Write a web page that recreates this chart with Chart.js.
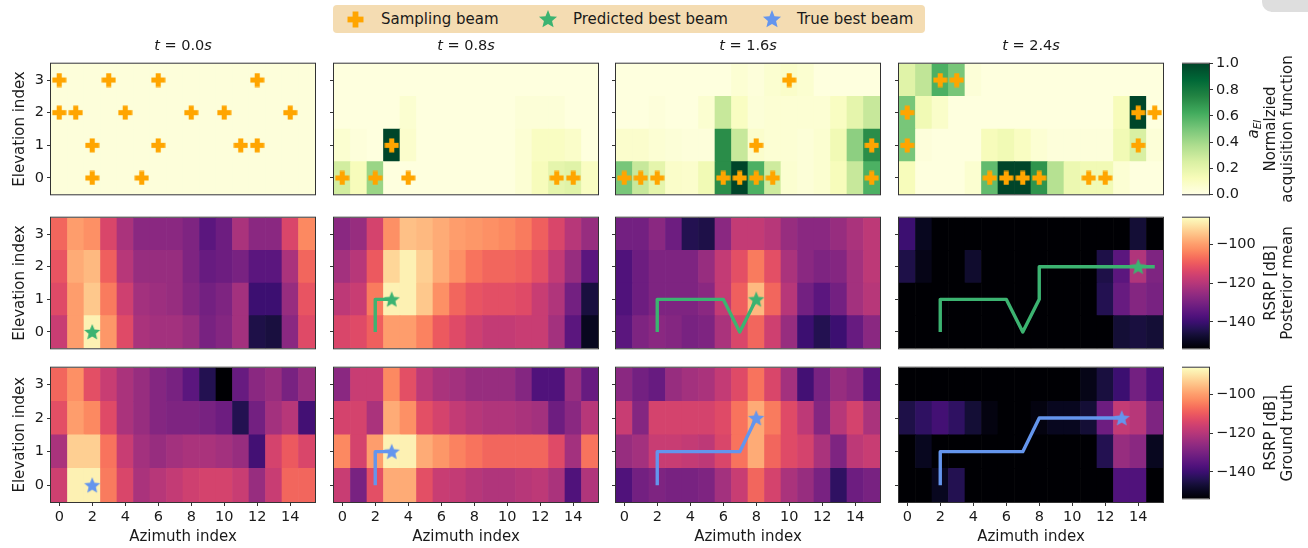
<!DOCTYPE html>
<html>
<head>
<meta charset="utf-8">
<title>Beam tracking heatmaps</title>
<script src="https://cdn.jsdelivr.net/npm/chart.js@4.4.1/dist/chart.umd.min.js"></script>
<style>
  body { margin: 0; background: #fff; }
  #fig { position: relative; width: 1308px; height: 548px; overflow: hidden;
         font-family: "DejaVu Sans", sans-serif; color: #1a1a1a; }
  #fig canvas { position: absolute; }
  .ptitle { position: absolute; top: 37px; width: 264px; text-align: center; font-size: 14.5px; line-height: 17px; }
  .cblabel { position: absolute; white-space: nowrap; text-align: center; font-size: 15px; line-height: 17px;
             transform: translate(-50%, -50%) rotate(-90deg); }
  .cblabel sub { font-size: 10.5px; line-height: 0; vertical-align: -3px; }
  #legend { position: absolute; left: 333px; top: 5px; width: 592px; height: 28px;
            background: #f4dcb2; border-radius: 4px; font-size: 15px; }
  #legend span { position: absolute; top: 5px; line-height: 18px; white-space: nowrap; }
  .corner { position: absolute; left: 1262px; top: -12px; width: 70px; height: 24px;
            border-radius: 10px; background: #dedede; }
</style>
</head>
<body>
<div id="fig">
  <div class="corner"></div>
  <div id="legend"></div>
</div>
<script>
// === Data ===
const timeLabels = ['0.0', '0.8', '1.6', '2.4'];
const azimuthIdx = [0, 1, 2, 3, 4, 5, 6, 7, 8, 9, 10, 11, 12, 13, 14, 15];
const elevationIdx = [3, 2, 1, 0];   // row order of every grid below (top row first)
const azTicks = [0, 2, 4, 6, 8, 10, 12, 14];
const elevTicks = [0, 1, 2, 3];
const acqTicks = [0, 0.2, 0.4, 0.6, 0.8, 1.0];
const rsrpTicks = [-140, -120, -100];
const acqRange = [0, 1];
const rsrpRange = [-153.7, -86.2];

// normalized acquisition function a_EI
const acqT00 = [
  [0.03, 0.03, 0.03, 0.03, 0.03, 0.03, 0.03, 0.03, 0.03, 0.03, 0.03, 0.03, 0.03, 0.03, 0.03, 0.03],
  [0.03, 0.03, 0.03, 0.03, 0.03, 0.03, 0.03, 0.03, 0.03, 0.03, 0.03, 0.03, 0.03, 0.03, 0.03, 0.03],
  [0.03, 0.03, 0.03, 0.03, 0.03, 0.03, 0.03, 0.03, 0.03, 0.03, 0.03, 0.03, 0.03, 0.03, 0.03, 0.03],
  [0.03, 0.03, 0.03, 0.03, 0.03, 0.03, 0.03, 0.03, 0.03, 0.03, 0.03, 0.03, 0.03, 0.03, 0.03, 0.03]
];
const acqT08 = [
  [0.02, 0.02, 0.02, 0.02, 0.02, 0.02, 0.02, 0.02, 0.02, 0.02, 0.02, 0.02, 0.02, 0.02, 0.02, 0.02],
  [0.02, 0.02, 0.02, 0.02, 0.06, 0.02, 0.02, 0.02, 0.02, 0.02, 0.02, 0.04, 0.04, 0.04, 0.02, 0.02],
  [0.06, 0.03, 0.02, 1.00, 0.07, 0.02, 0.02, 0.02, 0.02, 0.02, 0.02, 0.05, 0.10, 0.10, 0.08, 0.02],
  [0.27, 0.12, 0.42, 0.02, 0.02, 0.02, 0.02, 0.02, 0.02, 0.02, 0.02, 0.05, 0.12, 0.20, 0.22, 0.10]
];
const acqT16 = [
  [0.02, 0.02, 0.02, 0.02, 0.02, 0.02, 0.02, 0.05, 0.03, 0.06, 0.08, 0.06, 0.02, 0.02, 0.02, 0.02],
  [0.02, 0.02, 0.03, 0.02, 0.02, 0.06, 0.30, 0.10, 0.04, 0.05, 0.05, 0.05, 0.05, 0.10, 0.20, 0.30],
  [0.07, 0.07, 0.05, 0.04, 0.03, 0.03, 0.72, 0.30, 0.07, 0.05, 0.05, 0.04, 0.06, 0.15, 0.45, 0.72],
  [0.50, 0.30, 0.20, 0.08, 0.07, 0.15, 0.72, 1.00, 0.60, 0.28, 0.06, 0.04, 0.06, 0.12, 0.30, 0.60]
];
const acqT24 = [
  [0.22, 0.32, 0.60, 0.50, 0.04, 0.02, 0.02, 0.02, 0.02, 0.02, 0.02, 0.02, 0.02, 0.02, 0.02, 0.02],
  [0.50, 0.15, 0.08, 0.02, 0.02, 0.02, 0.02, 0.02, 0.02, 0.02, 0.02, 0.02, 0.02, 0.12, 1.00, 0.02],
  [0.50, 0.03, 0.02, 0.02, 0.02, 0.12, 0.15, 0.10, 0.05, 0.03, 0.03, 0.03, 0.03, 0.15, 0.25, 0.04],
  [0.12, 0.02, 0.02, 0.02, 0.06, 0.55, 1.00, 1.00, 0.70, 0.35, 0.17, 0.15, 0.15, 0.05, 0.02, 0.02]
];

// RSRP posterior mean [dB]
const postT00 = [
  [-108, -100, -102, -114, -122, -127, -127, -127, -129, -135, -132, -122, -127, -127, -114, -103],
  [-111, -98, -96, -109, -120, -125, -125, -125, -129, -133, -132, -130, -135, -135, -122, -108],
  [-113, -100, -94, -105, -116, -123, -124, -125, -128, -131, -129, -123, -140, -140, -125, -111],
  [-117, -100, -88, -101, -113, -122, -123, -123, -125, -130, -128, -123, -145, -146, -127, -113]
];
const postT08 = [
  [-127, -125, -115, -102, -95, -96, -98, -100, -101, -102, -103, -105, -109, -114, -120, -125],
  [-123, -120, -110, -92, -88, -93, -98, -102, -106, -108, -108, -109, -112, -118, -125, -135],
  [-119, -117, -105, -88, -88, -94, -102, -108, -111, -112, -112, -113, -117, -121, -131, -146],
  [-114, -113, -109, -100, -100, -104, -110, -113, -116, -118, -118, -117, -117, -123, -135, -150]
];
const postT16 = [
  [-131, -131, -127, -132, -144, -145, -127, -118, -118, -120, -125, -127, -127, -125, -122, -119],
  [-137, -132, -129, -129, -129, -125, -118, -112, -105, -112, -122, -127, -129, -128, -123, -119],
  [-137, -132, -129, -129, -129, -127, -118, -109, -96, -108, -120, -131, -135, -131, -123, -120],
  [-135, -129, -127, -128, -130, -129, -122, -114, -108, -116, -125, -140, -144, -140, -133, -127]
];
const postT24 = [
  [-140, -150, -155, -155, -155, -155, -155, -155, -155, -155, -155, -155, -155, -155, -147, -155],
  [-145, -151, -155, -155, -148, -155, -155, -155, -155, -155, -155, -155, -145, -135, -121, -129],
  [-155, -155, -155, -155, -155, -155, -155, -155, -155, -155, -155, -155, -144, -133, -128, -130],
  [-155, -155, -155, -155, -155, -155, -155, -155, -155, -155, -155, -155, -155, -147, -146, -147]
];

// RSRP ground truth [dB]
const truthT00 = [
  [-108, -102, -112, -117, -122, -125, -128, -130, -135, -144, -155, -133, -127, -125, -130, -125],
  [-112, -100, -103, -113, -122, -125, -128, -129, -129, -130, -132, -144, -131, -123, -120, -139],
  [-122, -93, -93, -106, -117, -123, -125, -123, -122, -122, -123, -125, -139, -115, -110, -114],
  [-116, -88, -88, -105, -114, -122, -120, -118, -116, -115, -115, -117, -125, -117, -108, -108]
];
const truthT08 = [
  [-127, -117, -117, -103, -112, -119, -122, -123, -125, -125, -125, -128, -137, -137, -125, -133],
  [-115, -115, -122, -98, -102, -112, -115, -118, -120, -121, -121, -122, -123, -132, -127, -120],
  [-103, -115, -100, -88, -88, -98, -101, -104, -106, -108, -108, -108, -108, -113, -123, -106],
  [-117, -130, -112, -98, -98, -112, -117, -118, -120, -121, -121, -120, -119, -122, -137, -121]
];
const truthT16 = [
  [-127, -131, -133, -125, -123, -122, -118, -113, -106, -114, -123, -139, -130, -125, -127, -135],
  [-117, -128, -115, -115, -115, -115, -113, -106, -98, -105, -113, -119, -128, -120, -115, -122],
  [-125, -123, -117, -117, -118, -119, -114, -106, -98, -108, -113, -115, -122, -129, -119, -117],
  [-137, -131, -129, -130, -130, -129, -123, -117, -108, -115, -122, -125, -130, -142, -132, -130]
];
const truthT24 = [
  [-155, -155, -155, -155, -155, -155, -155, -155, -155, -155, -155, -151, -146, -140, -131, -137],
  [-145, -142, -139, -142, -147, -152, -155, -155, -152, -150, -150, -147, -132, -118, -120, -129],
  [-155, -150, -155, -155, -155, -155, -155, -155, -155, -155, -155, -155, -144, -125, -127, -150],
  [-155, -155, -150, -144, -155, -155, -155, -155, -155, -155, -155, -155, -155, -137, -137, -155]
];

// sampling beams [azimuth, elevation]
const samplesT00 = [[0, 3], [3, 3], [6, 3], [12, 3], [0, 2], [1, 2], [4, 2], [8, 2], [10, 2], [14, 2],
                    [2, 1], [6, 1], [11, 1], [12, 1], [2, 0], [5, 0]];
const samplesT08 = [[3, 1], [0, 0], [2, 0], [4, 0], [13, 0], [14, 0]];
const samplesT16 = [[10, 3], [8, 1], [15, 1], [0, 0], [1, 0], [2, 0], [6, 0], [7, 0], [8, 0], [9, 0], [15, 0]];
const samplesT24 = [[2, 3], [3, 3], [0, 2], [14, 2], [15, 2], [0, 1], [14, 1],
                    [5, 0], [6, 0], [7, 0], [8, 0], [11, 0], [12, 0]];

// best beam tracks [azimuth, elevation]
const predBest = [[2, 0], [3, 1], [8, 1], [14, 2]];
const trueBest = [[2, 0], [3, 1], [8, 2], [13, 2]];
const predPathT08 = [[2, 0], [2, 1], [3, 1]];
const predPathT16 = [[2, 0], [2, 1], [3, 1], [4, 1], [5, 1], [6, 1], [7, 0], [8, 1]];
const predPathT24 = [[2, 0], [2, 1], [3, 1], [4, 1], [5, 1], [6, 1], [7, 0], [8, 1], [8, 2],
                     [9, 2], [10, 2], [11, 2], [12, 2], [13, 2], [14, 2], [15, 2]];
const truePathT08 = [[2, 0], [2, 1], [3, 1]];
const truePathT16 = [[2, 0], [2, 1], [3, 1], [4, 1], [5, 1], [6, 1], [7, 1], [8, 2]];
const truePathT24 = [[2, 0], [2, 1], [3, 1], [4, 1], [5, 1], [6, 1], [7, 1], [8, 2],
                     [9, 2], [10, 2], [11, 2], [12, 2], [13, 2]];

// === Look ===
const GREEN = '#3cb371', BLUE = '#6495ed', ORANGE = '#ffa500';
const FONT = { family: '"DejaVu Sans", sans-serif', size: 14.5 };
const LABEL_FONT = { family: '"DejaVu Sans", sans-serif', size: 15 };
const TEXT = '#1a1a1a';
const magmaStops = ['#000004', '#07061c', '#140e36', '#251255', '#3b0f70', '#51127c', '#641a80',
  '#782281', '#8c2981', '#a1307e', '#b73779', '#cb3e72', '#de4968', '#ed5a5f', '#f7705c',
  '#fc8961', '#fe9f6d', '#feb77e', '#fecf92', '#fde7a9', '#fcfdbf'];
const ylgnStops = ['#ffffe5', '#f7fcb9', '#d9f0a3', '#addd8e', '#78c679', '#41ab5d', '#238443', '#006837', '#004529'];

const colX = [51, 334, 616, 899];
const rowY = [60, 214, 364];
const PW = 264, PH = 138, AX_W = 51, PAD = 8, XAX_H = 52;
const CB_X = 1182, CB_W = 27;

const fig = document.getElementById('fig');

function hexToRgb(h) {
  return [1, 3, 5].map(i => parseInt(h.substr(i, 2), 16));
}
function cmapColor(stops, t) {
  t = Math.min(1, Math.max(0, t));
  const pos = t * (stops.length - 1);
  const i = Math.min(stops.length - 2, Math.floor(pos));
  const f = pos - i;
  const a = hexToRgb(stops[i]), b = hexToRgb(stops[i + 1]);
  const c = a.map((v, k) => Math.round(v + (b[k] - v) * f));
  return `rgb(${c[0]},${c[1]},${c[2]})`;
}
function norm(v, range) {
  return (v - range[0]) / (range[1] - range[0]);
}

function makeMarker(kind, size, color) {
  const c = document.createElement('canvas');
  c.width = c.height = size;
  const g = c.getContext('2d');
  g.fillStyle = color;
  const m = size / 2;
  if (kind === 'plus') {
    const t = size * 0.34;
    g.fillRect(m - t / 2, 0.5, t, size - 1);
    g.fillRect(0.5, m - t / 2, size - 1, t);
  } else {
    const R = m - 0.5, r = R * 0.45;
    g.beginPath();
    for (let i = 0; i < 10; i++) {
      const a = -Math.PI / 2 + i * Math.PI / 5;
      const rr = i % 2 ? r : R;
      g.lineTo(m + rr * Math.cos(a), m + rr * Math.sin(a) + 0.6);
    }
    g.closePath();
    g.fill();
  }
  return c;
}
const plusImg = makeMarker('plus', 15, ORANGE);
const starGreen = makeMarker('star', 18, GREEN);
const starBlue = makeMarker('star', 18, BLUE);

// axes frame, like matplotlib spines
const framePlugin = {
  id: 'frame',
  afterDatasetsDraw(chart) {
    const { ctx, chartArea: a } = chart;
    ctx.save();
    ctx.strokeStyle = '#333';
    ctx.lineWidth = 1;
    ctx.strokeRect(a.left - 0.5, a.top - 0.5, a.width + 1, a.height + 1);
    ctx.restore();
  }
};

function addCanvas(left, top, w, h) {
  const cv = document.createElement('canvas');
  cv.width = w; cv.height = h;
  cv.style.left = left + 'px';
  cv.style.top = top + 'px';
  fig.appendChild(cv);
  return cv;
}

function gridToCells(grid, colorFn) {
  const pts = [], cols = [];
  grid.forEach((row, r) => {
    const el = elevationIdx[r];
    row.forEach((v, c) => {
      pts.push({ x: azimuthIdx[c], y: [el - 0.5, el + 0.5] });
      cols.push(colorFn(v));
    });
  });
  return { pts, cols };
}
const toXY = list => list.map(([x, y]) => ({ x, y }));

function markerSet(list, img) {
  return { type: 'scatter', data: toXY(list), pointStyle: img, pointRadius: 7,
           clip: false, order: 1 };
}

// === Heatmap panels ===
const gridsByRow = [
  [acqT00, acqT08, acqT16, acqT24],
  [postT00, postT08, postT16, postT24],
  [truthT00, truthT08, truthT16, truthT24]
];
const samplesByCol = [samplesT00, samplesT08, samplesT16, samplesT24];
const predPaths = [null, predPathT08, predPathT16, predPathT24];
const truePaths = [null, truePathT08, truePathT16, truePathT24];

function drawPanel(row, col) {
  const isAcq = row === 0;
  const colorFn = isAcq
    ? v => cmapColor(ylgnStops, norm(v, acqRange))
    : v => cmapColor(magmaStops, norm(v, rsrpRange));
  const cells = gridToCells(gridsByRow[row][col], colorFn);

  const datasets = [{
    type: 'bar', data: cells.pts, backgroundColor: cells.cols, borderWidth: 0,
    barPercentage: 1, categoryPercentage: 1, order: 3
  }];
  if (isAcq) {
    datasets.push(markerSet(samplesByCol[col], plusImg));
  } else {
    const path = (row === 1 ? predPaths : truePaths)[col];
    const best = (row === 1 ? predBest : trueBest)[col];
    const color = row === 1 ? GREEN : BLUE;
    if (path) {
      datasets.push({
        type: 'line', data: toXY(path), borderColor: color, borderWidth: 3.4,
        pointRadius: 0, tension: 0, fill: false, borderJoinStyle: 'round',
        borderCapStyle: 'butt', order: 2
      });
    }
    datasets.push(markerSet([best], row === 1 ? starGreen : starBlue));
  }

  const bottom = row === 2;
  const xScale = {
    type: 'linear', min: -0.5, max: 15.5, offset: false, display: bottom,
    afterBuildTicks: s => { s.ticks = azTicks.map(v => ({ value: v })); },
    grid: { drawOnChartArea: false, tickLength: 4, color: '#333', offset: false },
    border: { display: false },
    ticks: { font: FONT, color: TEXT, padding: 3, maxRotation: 0, autoSkip: false },
    title: { display: true, text: 'Azimuth index', font: LABEL_FONT, color: TEXT, padding: { top: 0, bottom: 8 } }
  };
  if (bottom) xScale.afterFit = s => { s.height = XAX_H; };

  const cv = addCanvas(colX[col] - AX_W, rowY[row] - PAD, AX_W + PW + PAD,
                       PAD + PH + (bottom ? XAX_H : PAD));
  new Chart(cv, {
    type: 'bar',
    data: { datasets },
    options: {
      responsive: false, animation: false, events: [],
      layout: { padding: { left: 0, top: PAD, right: PAD, bottom: bottom ? 0 : PAD } },
      plugins: { legend: { display: false }, tooltip: { enabled: false } },
      scales: {
        x: xScale,
        y: {
          type: 'linear', min: -0.5, max: 3.5,
          afterBuildTicks: s => { s.ticks = elevTicks.map(v => ({ value: v })); },
          afterFit: s => { s.width = AX_W; },
          grid: { drawOnChartArea: false, tickLength: 4, color: '#333' },
          border: { display: false },
          ticks: { font: FONT, color: TEXT, padding: 3, callback: v => (col === 0 ? String(v) : '') },
          title: { display: col === 0, text: 'Elevation index', font: LABEL_FONT, color: TEXT,
                   padding: { top: 11, bottom: 0 } }
        }
      }
    },
    plugins: [framePlugin]
  });
}

// === Colorbars ===
function drawColorbar(row, stops, range, ticks, fmt) {
  const cv = addCanvas(CB_X, rowY[row] - PAD, CB_W + 60, PH + 2 * PAD);
  new Chart(cv, {
    type: 'bar',
    data: {
      labels: [''],
      datasets: [{
        data: [range],
        borderWidth: 0, barPercentage: 1, categoryPercentage: 1,
        backgroundColor: ctx => {
          const a = ctx.chart.chartArea;
          if (!a) return 'transparent';
          const g = ctx.chart.ctx.createLinearGradient(0, a.bottom, 0, a.top);
          stops.forEach((s, i) => g.addColorStop(i / (stops.length - 1), s));
          return g;
        }
      }]
    },
    options: {
      responsive: false, animation: false, events: [],
      layout: { padding: { left: 0, top: PAD, right: 0, bottom: PAD } },
      plugins: { legend: { display: false }, tooltip: { enabled: false } },
      scales: {
        x: { display: false },
        y: {
          position: 'right', min: range[0], max: range[1],
          afterBuildTicks: s => { s.ticks = ticks.map(v => ({ value: v })); },
          afterFit: s => { s.width = 60; },
          grid: { drawOnChartArea: false, tickLength: 4, color: '#333' },
          border: { display: false },
          ticks: { font: FONT, color: TEXT, padding: 3, callback: fmt }
        }
      }
    },
    plugins: [framePlugin]
  });
}

function addLabel(html, cx, cy) {
  const d = document.createElement('div');
  d.className = 'cblabel';
  d.innerHTML = html;
  d.style.left = cx + 'px';
  d.style.top = cy + 'px';
  fig.appendChild(d);
}

// === Titles and legend ===
function drawTitles() {
  timeLabels.forEach((t, c) => {
    const d = document.createElement('div');
    d.className = 'ptitle';
    d.style.left = colX[c] + 'px';
    d.innerHTML = `<i>t</i> = ${t}<i>s</i>`;
    fig.appendChild(d);
  });
}

function drawLegend() {
  const lg = document.getElementById('legend');
  const items = [
    { img: makeMarker('plus', 17, ORANGE), cx: 22, text: 'Sampling beam', tx: 48 },
    { img: makeMarker('star', 20, GREEN), cx: 215, text: 'Predicted best beam', tx: 240 },
    { img: makeMarker('star', 20, BLUE), cx: 439, text: 'True best beam', tx: 464 }
  ];
  items.forEach(it => {
    it.img.style.left = (it.cx - it.img.width / 2) + 'px';
    it.img.style.top = (14 - it.img.height / 2) + 'px';
    lg.appendChild(it.img);
    const s = document.createElement('span');
    s.style.left = it.tx + 'px';
    s.textContent = it.text;
    lg.appendChild(s);
  });
}

// === INIT ===
for (let r = 0; r < 3; r++) {
  for (let c = 0; c < 4; c++) drawPanel(r, c);
}
const rsrpFmt = v => '\u2212' + Math.abs(v);
drawColorbar(0, ylgnStops, acqRange, acqTicks, v => v.toFixed(1));
drawColorbar(1, magmaStops, rsrpRange, rsrpTicks, rsrpFmt);
drawColorbar(2, magmaStops, rsrpRange, rsrpTicks, rsrpFmt);
addLabel('<i>a</i><sub><i>EI</i></sub><br>Normalzied<br>acquisition function', 1270, rowY[0] + PH / 2);
addLabel('RSRP [dB]<br>Posterior mean', 1279, rowY[1] + PH / 2);
addLabel('RSRP [dB]<br>Ground truth', 1279, rowY[2] + PH / 2);
drawTitles();
drawLegend();
</script>
</body>
</html>
